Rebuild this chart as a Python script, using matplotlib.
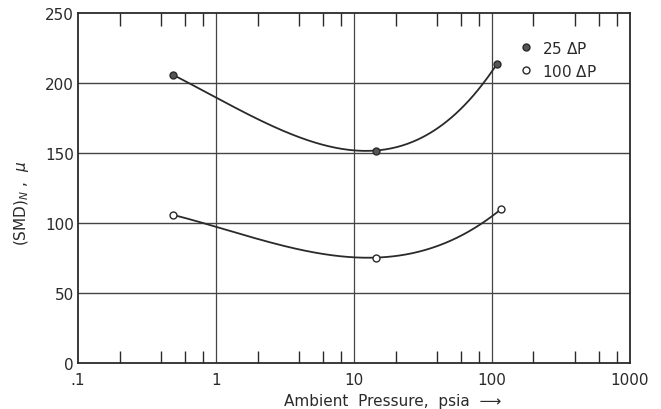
import matplotlib
matplotlib.use("Agg")
import matplotlib.pyplot as plt
import numpy as np
from matplotlib.ticker import LogLocator, NullFormatter

# measured points (ambient pressure in psia, SMD in microns)
pressure_25 = [0.49, 14.4, 109]
smd_25 = [206, 152, 214]
pressure_100 = [0.49, 14.4, 116]
smd_100 = [106, 75.5, 110]

# faired curves drawn through the data
curve_p_25 = [0.49, 1, 3, 7, 14.4, 26, 50, 89, 109]
curve_smd_25 = [206, 188.5, 168, 155.5, 152, 160, 176, 200, 214]
curve_p_100 = [0.49, 1, 3, 10, 14.4, 50, 116]
curve_smd_100 = [106, 95.5, 86, 76.5, 75.5, 88, 110]

xtick_vals = [0.1, 1, 10, 100, 1000]
xtick_labels = [".1", "1", "10", "100", "1000"]
ytick_vals = [0, 50, 100, 150, 200, 250]


def faired(p, s, pts, deg=4):
    # smooth polynomial in log(p); the measured points are weighted heavily
    lx = np.log10(p)
    w = np.where(np.isin(p, pts), 25.0, 1.0)
    coef = np.polyfit(lx, s, deg, w=w)
    xs = np.linspace(lx[0], lx[-1], 300)
    return 10**xs, np.polyval(coef, xs)


plt.rcParams["font.family"] = ["DejaVu Sans"]
ink = "#2a2a2a"

fig = plt.figure(figsize=(6.61, 4.10), dpi=100)
ax = fig.add_axes([0.118, 0.1115, 0.835, 0.8535])
ax.set_xscale("log")
ax.set_xlim(0.1, 1000)
ax.set_ylim(0, 250)

for v in [1, 10, 100]:
    ax.axvline(v, color="#444444", lw=0.9, zorder=1)
for v in [50, 100, 150, 200]:
    ax.axhline(v, color="#444444", lw=1.0, zorder=1)

xc, yc = faired(curve_p_25, curve_smd_25, pressure_25)
ax.plot(xc, yc, color=ink, lw=1.3, zorder=2)
xc, yc = faired(curve_p_100, curve_smd_100, pressure_100, deg=3)
ax.plot(xc, yc, color=ink, lw=1.3, zorder=2)

ax.plot(pressure_25, smd_25, "o", ms=5, mfc="#555555", mec=ink, mew=1.0,
        ls="none", zorder=3, label="25 $\\Delta$P")
ax.plot(pressure_100, smd_100, "o", ms=5, mfc="white", mec=ink, mew=1.0,
        ls="none", zorder=3, label="100 $\\Delta$P")

ax.set_xticks(xtick_vals, xtick_labels)
ax.xaxis.set_minor_locator(LogLocator(base=10, subs=[2, 4, 6, 8]))
ax.xaxis.set_minor_formatter(NullFormatter())
ax.set_yticks(ytick_vals, [str(v) for v in ytick_vals])
ax.tick_params(axis="x", which="major", length=0, pad=6, labelsize=11, colors=ink)
ax.tick_params(axis="x", which="minor", direction="in", length=9, width=1.0,
               top=True, bottom=True, color=ink)
ax.tick_params(axis="y", which="major", length=0, pad=3, labelsize=11, colors=ink)

for s in ax.spines.values():
    s.set_linewidth(1.3)
    s.set_color(ink)

ax.set_xlabel("Ambient  Pressure,  psia  \u27f6", fontsize=11, color=ink)
ax.xaxis.set_label_coords(0.571, -0.085)
ax.set_ylabel("(SMD)$_N$ ,  $\\mu$", fontsize=11, color=ink)
ax.yaxis.set_label_coords(-0.085, 0.46)

ax.legend(loc="upper left", bbox_to_anchor=(0.79, 0.942), frameon=False,
          fontsize=11, handlelength=0.8, handletextpad=0.6, labelspacing=0.45,
          borderaxespad=0, labelcolor=ink)

fig.savefig("out.png", dpi=100)
